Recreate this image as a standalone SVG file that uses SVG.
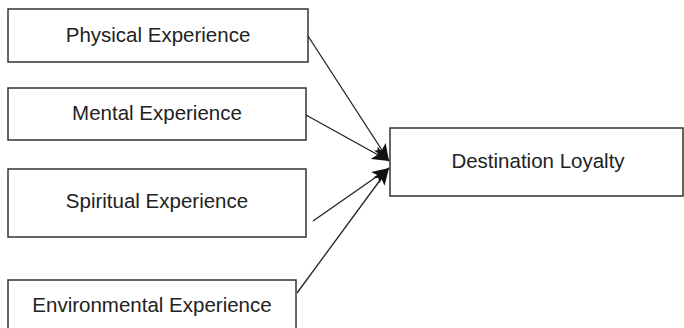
<svg xmlns="http://www.w3.org/2000/svg" width="684" height="328" viewBox="0 0 684 328">
<defs>
<style>
.box{fill:#fff;stroke:#333;stroke-width:1.5}
.lbl{font-family:"Liberation Sans",Arial,sans-serif;font-size:20.5px;fill:#222;text-anchor:middle}
.edge{stroke:#222;stroke-width:1.3;fill:none}
</style>
<marker id="ah" markerUnits="userSpaceOnUse" markerWidth="20" markerHeight="14" refX="17" refY="7" orient="auto">
<path d="M0,0 L17,7 L0,14 L4,7 Z" fill="#111"/>
</marker>
</defs>
<rect width="684" height="328" fill="#fff"/>
<g id="physical"><rect class="box" x="8" y="9" width="300" height="53"/><text class="lbl" x="158" y="42">Physical Experience</text></g>
<g id="mental"><rect class="box" x="8" y="88" width="298" height="52"/><text class="lbl" x="157" y="120">Mental Experience</text></g>
<g id="spiritual"><rect class="box" x="8" y="169" width="298" height="68"/><text class="lbl" x="157" y="208">Spiritual Experience</text></g>
<g id="environmental"><rect class="box" x="8" y="280" width="288" height="60"/><text class="lbl" x="152" y="312">Environmental Experience</text></g>
<g id="loyalty"><rect class="box" x="390" y="128" width="293" height="68"/><text class="lbl" x="538" y="168">Destination Loyalty</text></g>
<g id="connectors">
<line class="edge" x1="308" y1="36" x2="389" y2="161" marker-end="url(#ah)"/>
<line class="edge" x1="306" y1="115" x2="389" y2="161" marker-end="url(#ah)"/>
<line class="edge" x1="313" y1="221" x2="389" y2="168" marker-end="url(#ah)"/>
<line class="edge" x1="297" y1="293" x2="389" y2="168" marker-end="url(#ah)"/>
</g>
</svg>
